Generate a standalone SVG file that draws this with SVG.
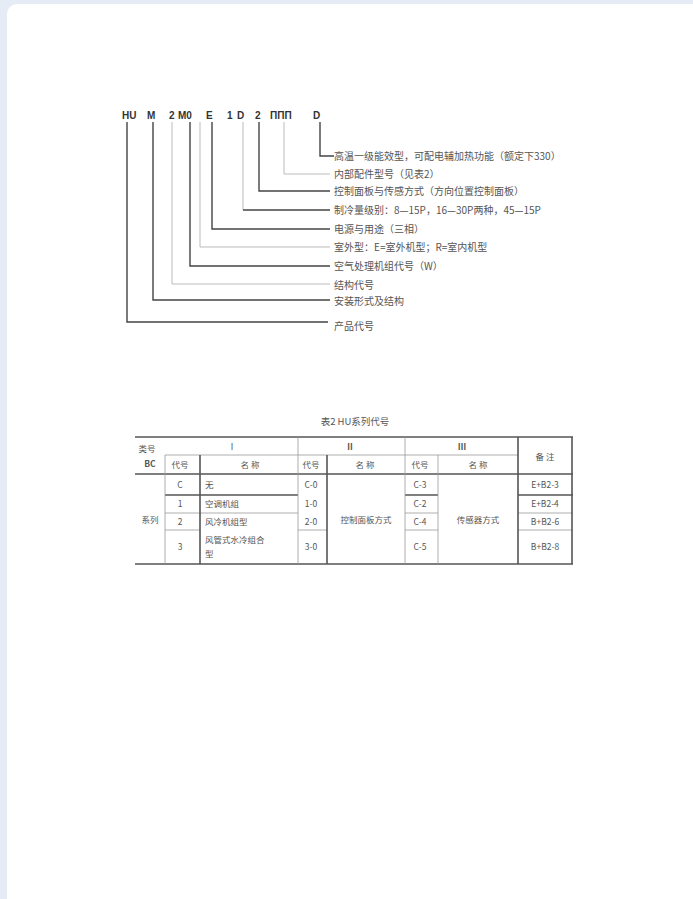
<svg xmlns="http://www.w3.org/2000/svg" width="693" height="899" viewBox="0 0 693 899">
<style>
.code{font-family:"Liberation Sans","Noto Sans CJK SC",sans-serif;font-size:10px;font-weight:bold;fill:#333}
.lbl{font-family:"Noto Sans CJK SC","Liberation Sans",sans-serif;font-size:10px;fill:#555}
.t{font-family:"Noto Sans CJK SC","Liberation Sans",sans-serif;font-size:8.5px;fill:#555;text-anchor:middle}
.ln{stroke:#444;stroke-width:1.4;fill:none}
.lf{stroke:#bbb;stroke-width:1;fill:none}
.tk{stroke:#555;stroke-width:1.6;fill:none}
.tn{stroke:#999;stroke-width:0.8;fill:none}
</style>
<rect x="0" y="0" width="693" height="899" fill="#e6ecf6"/>
<rect x="7" y="4" width="700" height="910" rx="10" fill="#ffffff"/>
<g id="header">
<text class="code" x="122" y="119">HU</text>
<text class="code" x="147" y="119">M</text>
<text class="code" x="169" y="119">2</text>
<text class="code" x="178" y="119">M0</text>
<text class="code" x="206" y="119">E</text>
<text class="code" x="227" y="119">1</text>
<text class="code" x="237" y="119">D</text>
<text class="code" x="255" y="119">2</text>
<text class="code" x="270" y="119">ΠΠΠ</text>
<text class="code" x="313" y="119">D</text>
</g>
<g id="connectors">
<polyline class="ln" points="320,122 320,156 334,156"/>
<polyline class="lf" points="284,122 284,174 330,174"/>
<polyline class="ln" points="259,122 259,191 330,191"/>
<polyline class="lf" points="243,122 243,210"/>
<line class="ln" x1="243" y1="210" x2="330" y2="210"/>
<polyline class="ln" points="212,122 212,229 330,229"/>
<polyline class="lf" points="200,122 200,247 330,247"/>
<polyline class="ln" points="190,122 190,266 330,266"/>
<polyline class="lf" points="172,122 172,284 330,284"/>
<polyline class="ln" points="153,122 153,300 330,300"/>
<polyline class="ln" points="127,122 127,322 328,322"/>
</g>
<g id="label1"><text class="lbl" x="334" y="160">高温一级能效型，可配电辅加热功能（额定下330）</text></g>
<g id="label2"><text class="lbl" x="334" y="178">内部配件型号（见表2）</text></g>
<g id="label3"><text class="lbl" x="334" y="195">控制面板与传感方式（方向位置控制面板）</text></g>
<g id="label4"><text class="lbl" x="334" y="214">制冷量级别：8—15P，16—30P两种，45—15P</text></g>
<g id="label5"><text class="lbl" x="334" y="233">电源与用途（三相）</text></g>
<g id="label6"><text class="lbl" x="334" y="251">室外型：E=室外机型；R=室内机型</text></g>
<g id="label7"><text class="lbl" x="334" y="270">空气处理机组代号（W）</text></g>
<g id="label8"><text class="lbl" x="334" y="289">结构代号</text></g>
<g id="label9"><text class="lbl" x="334" y="305">安装形式及结构</text></g>
<g id="label10"><text class="lbl" x="334" y="330">产品代号</text></g>
<g id="table">
<text class="t" x="355" y="425" style="font-size:9.5px">表2  HU系列代号</text>
<line class="tk" x1="135" y1="437" x2="573" y2="437"/>
<line class="tn" x1="165" y1="455" x2="518" y2="455"/>
<line class="tk" x1="135" y1="474" x2="573" y2="474"/>
<line class="tk" x1="165" y1="495" x2="298" y2="495"/>
<line class="tk" x1="405" y1="495" x2="438" y2="495"/>
<line class="tk" x1="518" y1="495" x2="573" y2="495"/>
<line class="tn" x1="165" y1="513" x2="298" y2="513"/>
<line class="tn" x1="405" y1="513" x2="438" y2="513"/>
<line class="tn" x1="518" y1="513" x2="573" y2="513"/>
<line class="tn" x1="165" y1="530" x2="200" y2="530"/>
<line class="tn" x1="298" y1="530" x2="327" y2="530"/>
<line class="tn" x1="405" y1="530" x2="438" y2="530"/>
<line class="tn" x1="518" y1="530" x2="573" y2="530"/>
<line class="tk" x1="135" y1="564" x2="573" y2="564"/>
<line class="tn" x1="165" y1="455" x2="165" y2="564"/>
<line class="tk" x1="200" y1="455" x2="200" y2="564"/>
<line class="tn" x1="298" y1="437" x2="298" y2="564"/>
<line class="tk" x1="327" y1="455" x2="327" y2="564"/>
<line class="tn" x1="405" y1="437" x2="405" y2="564"/>
<line class="tn" x1="438" y1="455" x2="438" y2="564"/>
<line class="tk" x1="518" y1="437" x2="518" y2="564"/>
<line class="tk" x1="572" y1="437" x2="572" y2="564"/>
<text class="t" x="147" y="452">类号</text>
<text class="t" x="150" y="467" style="font-weight:bold">BC</text>
<text class="t" x="232" y="450">Ⅰ</text>
<text class="t" x="350" y="450" style="font-weight:bold">Ⅱ</text>
<text class="t" x="462" y="450" style="font-weight:bold">Ⅲ</text>
<text class="t" x="545" y="460">备 注</text>
<text class="t" x="180" y="468">代号</text>
<text class="t" x="250" y="468">名      称</text>
<text class="t" x="311" y="468">代号</text>
<text class="t" x="365" y="468">名      称</text>
<text class="t" x="420" y="468">代号</text>
<text class="t" x="478" y="468">名      称</text>
<text class="t" x="150" y="523">系列</text>
<text class="t" x="180" y="488">C</text>
<text class="t" x="180" y="507">1</text>
<text class="t" x="180" y="525">2</text>
<text class="t" x="180" y="550">3</text>
<text class="t" x="205" y="488" style="text-anchor:start">无</text>
<text class="t" x="205" y="507" style="text-anchor:start">空调机组</text>
<text class="t" x="205" y="525" style="text-anchor:start">风冷机组型</text>
<text class="t" x="205" y="543" style="text-anchor:start">风管式水冷组合</text>
<text class="t" x="205" y="557" style="text-anchor:start">型</text>
<text class="t" x="311" y="488">C-0</text>
<text class="t" x="311" y="507">1-0</text>
<text class="t" x="311" y="525">2-0</text>
<text class="t" x="311" y="550">3-0</text>
<text class="t" x="366" y="523">控制面板方式</text>
<text class="t" x="420" y="488">C-3</text>
<text class="t" x="420" y="507">C-2</text>
<text class="t" x="420" y="525">C-4</text>
<text class="t" x="420" y="550">C-5</text>
<text class="t" x="478" y="523">传感器方式</text>
<text class="t" x="545" y="488">E+B2-3</text>
<text class="t" x="545" y="507">E+B2-4</text>
<text class="t" x="545" y="525">B+B2-6</text>
<text class="t" x="545" y="550">B+B2-8</text>
</g>
</svg>
